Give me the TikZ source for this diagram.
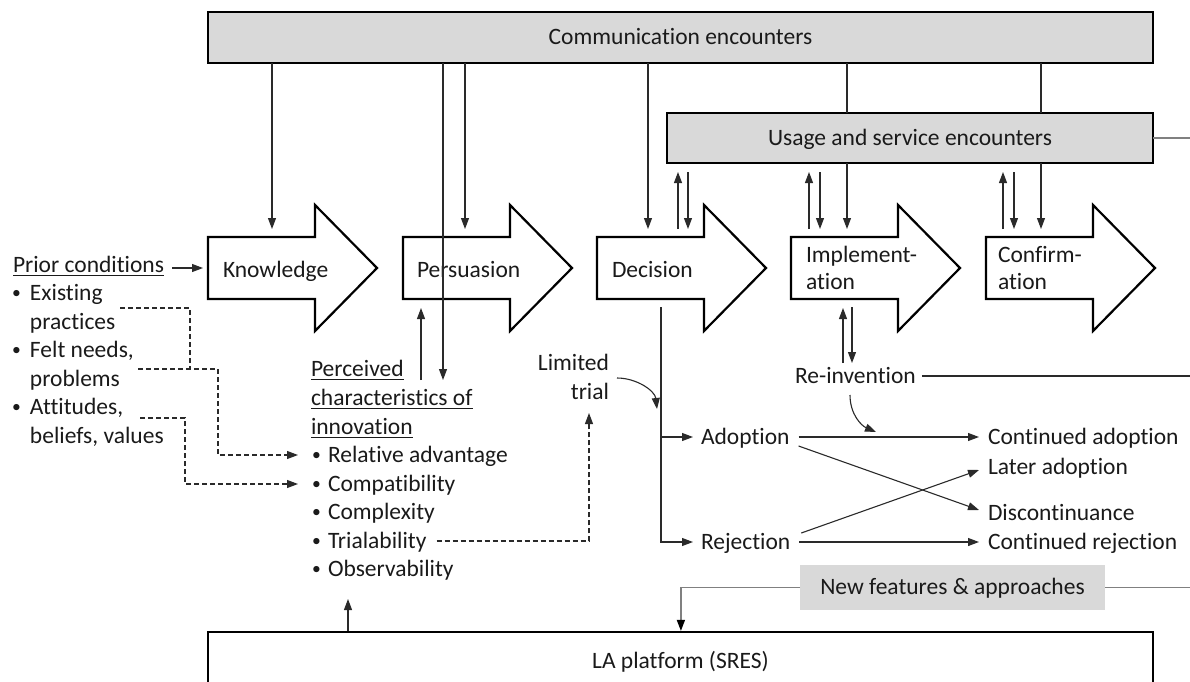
\documentclass[tikz,border=0pt]{standalone}
\usepackage{fontspec}
\usepackage{graphicx}
\setmainfont{Carlito}[Ligatures=NoCommon]
\usetikzlibrary{arrows.meta}
\definecolor{bandfill}{HTML}{D9D9D9}
\definecolor{ink}{HTML}{1A1A1A}
\definecolor{wire}{HTML}{2A2A2A}
\definecolor{softwire}{HTML}{808080}
\newcommand{\dfont}{\fontsize{11.75pt}{14.5pt}\selectfont}
\newcommand{\itembullet}[1]{\llap{\raisebox{0.12ex}{\scalebox{0.75}{\textbullet}}\hspace{#1}}}

\tikzset{
  tip/.style={-{Triangle[length=5.5pt,width=4pt]}},
  wireline/.style={draw=wire, line width=0.55pt},
  dashwire/.style={wireline, dash pattern=on 2.5pt off 1.5pt},
  softline/.style={draw=softwire, line width=0.75pt},
  lbl/.style={inner sep=0pt, outer sep=0pt, text height=8.5pt, text depth=1.5pt, font=\dfont, text=ink},
  mlbl/.style={inner sep=0pt, outer sep=0pt, align=left, font=\dfont, text=ink},
  band/.style={lbl, draw=black, line width=1.1pt, fill=bandfill},
  shaft/.style={inner sep=0pt, outer sep=0pt, minimum width=53.5pt, minimum height=31pt},
  stageline/.style={draw=black, line width=1.1pt, fill=white, line join=miter},
}

% block arrow of one innovation-decision stage: shaft node plus outline
\newcommand{\stagearrow}[2]{%
  \node[shaft] (#1) at (#2+53.5,268) {};
  \draw[stageline] (#1.north west) -- (#1.north east) -- ++(0,-32) -- ++(62,63)
    -- ++(-62,63) -- ++(0,-32) -- (#1.south west) -- cycle;}

\begin{document}
\begin{tikzpicture}[x=0.5pt,y=-0.5pt]
\useasboundingbox (0,0) rectangle (1190,681);
\clip (0,0) rectangle (1190,681);

% encounter bands
\node[band, minimum width=472.5pt, minimum height=25.5pt] (comm) at (680.5,37.5) {Communication encounters};
\node[band, minimum width=243pt, minimum height=25pt] (usage) at (910,138) {Usage and service encounters};

% stages
\stagearrow{know}{208}
\stagearrow{pers}{403}
\stagearrow{dec}{597}
\stagearrow{impl}{791}
\stagearrow{conf}{986}
\node[lbl, anchor=west] (know-t) at (223,270) {Knowledge};
\node[lbl, anchor=west] (pers-t) at (417,270) {Persuasion};
\node[lbl, anchor=west] (dec-t) at (612,270) {Decision};
% multi-line labels sit on the baseline of their last line
\node[mlbl, font=\fontsize{11.75pt}{13.5pt}\selectfont, anchor=base west] (impl-t) at (806,289) {Implement-\\ation};
\node[mlbl, font=\fontsize{11.75pt}{13.5pt}\selectfont, anchor=base west] (conf-t) at (998,289) {Confirm-\\ation};

% platform and feedback box
\node[draw=black, line width=1.1pt, fill=white, minimum width=472.5pt, minimum height=40pt, inner sep=0pt] (la) at (680.5,672) {};
\node[lbl] (la-t) at (680.5,661) {LA platform (SRES)};
\node[lbl, fill=bandfill, minimum width=152.5pt, minimum height=22.5pt] (newf) at (952.5,587.5) {New features \& approaches};

% prior conditions
\node[lbl, anchor=west] (prior) at (13,265) {\underline{Prior conditions}};
\node[mlbl, anchor=base west] (exist) at (30,329) {\itembullet{4.5pt}Existing\\practices};
\node[mlbl, anchor=base west] (felt) at (30,386) {\itembullet{4.5pt}Felt needs,\\problems};
\node[mlbl, anchor=base west] (att) at (30,443) {\itembullet{4.5pt}Attitudes,\\beliefs, values};

% perceived characteristics
\node[mlbl, anchor=base west] (perc) at (311,434) {\underline{Perceived}\\\underline{characteristics of}\\\underline{innovation}};
\node[lbl, anchor=west] (rel) at (328,455) {\itembullet{3.5pt}Relative advantage};
\node[lbl, anchor=west] (compat) at (328,484) {\itembullet{3.5pt}Compatibility};
\node[lbl, anchor=west] (cplx) at (328,512) {\itembullet{3.5pt}Complexity};
\node[lbl, anchor=west] (trl) at (328,541) {\itembullet{3.5pt}Trialability};
\node[lbl, anchor=west] (obs) at (328,569) {\itembullet{3.5pt}Observability};

% trial, decision outcomes and re-invention
\node[mlbl, align=right, anchor=base east] (ltrial) at (609,399) {Limited\\trial};
\node[lbl, anchor=west] (adop) at (701,437) {Adoption};
\node[lbl, anchor=west] (rej) at (701,542) {Rejection};
\node[lbl, anchor=west] (reinv) at (795,376) {Re-invention};
\node[lbl, anchor=west] (cadop) at (988,437) {Continued adoption};
\node[lbl, anchor=west] (ladop) at (988,467) {Later adoption};
\node[lbl, anchor=west] (disc) at (988,513) {Discontinuance};
\node[lbl, anchor=west] (crej) at (988,542) {Continued rejection};

% free ends and bends
\coordinate (e-out) at (120,308);
\coordinate (e-join) at (190,369);
\coordinate (f-out) at (138,369);
\coordinate (a-out) at (140,418);
\coordinate (lt-in) at (589,413);
\coordinate (lt-end) at (657,409);
\coordinate (ri-end) at (876,432);
\coordinate (ub) at ([yshift=-4.5pt]usage.south);

% communication encounters into the stages
\coordinate (k-d) at ([shift={(64,-8)}]know.north west);
\draw[wireline, tip] (comm.south -| k-d) -- (k-d);
\coordinate (p-d) at ([shift={(62,-8)}]pers.north west);
\draw[wireline, tip] (comm.south -| p-d) -- (p-d);
\coordinate (pc-d) at ([shift={(40,81)}]pers.south west);
\coordinate (pc-u) at ([shift={(18,81)}]pers.south west);
\draw[wireline, tip] (comm.south -| pc-d) -- (pc-d);
\draw[wireline, tip] (pc-u) -- ([shift={(18,9)}]pers.south west);
\coordinate (d-d) at ([shift={(51,-8)}]dec.north west);
\draw[wireline, tip] (comm.south -| d-d) -- (d-d);

% usage and service encounters with the later stages
\coordinate (d-u) at ([shift={(81,-8)}]dec.north west);
\coordinate (d-v) at ([shift={(91,-8)}]dec.north west);
\draw[wireline, tip] (d-u) -- (ub -| d-u);
\draw[wireline, tip] (ub -| d-v) -- (d-v);
\coordinate (i-u) at ([shift={(18,-8)}]impl.north west);
\coordinate (i-v) at ([shift={(29,-8)}]impl.north west);
\coordinate (i-d) at ([shift={(56,-8)}]impl.north west);
\draw[wireline, tip] (i-u) -- (ub -| i-u);
\draw[wireline, tip] (ub -| i-v) -- (i-v);
\draw[wireline, tip] (usage.south -| i-d) -- (i-d);
\draw[wireline] (comm.south -| i-d) -- (usage.north -| i-d);
\coordinate (c-u) at ([shift={(17,-8)}]conf.north west);
\coordinate (c-v) at ([shift={(28,-8)}]conf.north west);
\coordinate (c-d) at ([shift={(55,-8)}]conf.north west);
\draw[wireline, tip] (c-u) -- (ub -| c-u);
\draw[wireline, tip] (ub -| c-v) -- (c-v);
\draw[wireline, tip] (usage.south -| c-d) -- (c-d);
\draw[wireline] (comm.south -| c-d) -- (usage.north -| c-d);
\draw[softline] (usage.east) -- ++(37,0);

% implementation and re-invention
\coordinate (r-u) at ([shift={(52,64)}]impl.south west);
\draw[wireline, tip] (r-u) -- ([shift={(52,9)}]impl.south west);
\draw[wireline, tip] ([shift={(61,8)}]impl.south west) -- ([shift={(61,64)}]impl.south west);
\draw[wireline] ([xshift=3pt]reinv.east) -- ++(270,0);
\draw[wireline, tip] ([shift={(55,9)}]reinv.south west) .. controls +(0,20) and +(-14,-6) .. (ri-end);

% decision branches
\coordinate (dtop) at ([shift={(64,8)}]dec.south west);
\draw[wireline, tip] (dtop) |- ([xshift=-4pt]rej.west);
\draw[wireline, tip] (dtop |- adop.west) -- ([xshift=-4pt]adop.west);
\draw[wireline, tip] ([shift={(8,-21)}]ltrial.base east) .. controls +(20,0) and +(-2,-18) .. (lt-end);

% outcomes after the decision
\draw[wireline, tip] ([xshift=4.5pt]adop.east) -- ([xshift=-4.5pt]cadop.west);
\draw[wireline, tip] ([shift={(9,9)}]adop.east) -- ([shift={(-9,-3)}]disc.west);
\draw[wireline, tip] ([shift={(11,-9)}]rej.east) -- ([shift={(-9,3)}]ladop.west);
\draw[wireline, tip] ([xshift=4.5pt]rej.east) -- ([xshift=-4.5pt]crej.west);

% prior conditions feed knowledge and the perceived characteristics
\draw[wireline, tip] ([shift={(8,3)}]prior.east) -- ([xshift=-2.5pt]know.west);
\draw[dashwire] (e-out) -| (e-join);
\draw[dashwire, tip] (f-out) -| ([xshift=-55pt]rel.west) -- ([xshift=-15pt]rel.west);
\draw[dashwire, tip] (a-out) -| ([xshift=-71.5pt]compat.west) -- ([xshift=-15pt]compat.west);
\draw[dashwire, tip] ([xshift=5pt]trl.east) -| (lt-in);

% platform links
\coordinate (obs-in) at ([shift={(20,20)}]obs.south west);
\draw[wireline, tip] (la.north -| obs-in) -- (obs-in);
\draw[softline, -{Triangle[length=5.5pt,width=4pt,color=black]}] (newf.west) -| ([xshift=237pt]la.north west);
\draw[softline] (newf.east) -- ++(85,0);
\end{tikzpicture}
\end{document}
